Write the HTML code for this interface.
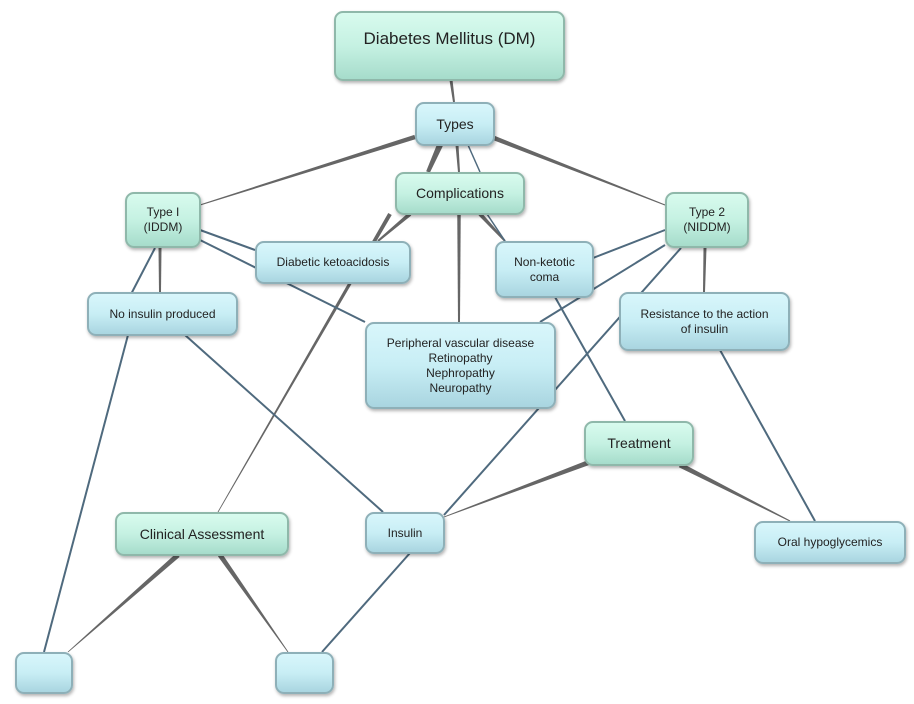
<!DOCTYPE html>
<html><head><meta charset="utf-8"><style>
body{margin:0;background:#fff;width:914px;height:704px;overflow:hidden;position:relative;font-family:"Liberation Sans",sans-serif}
svg{position:absolute;left:0;top:0}
.n{position:absolute;box-sizing:border-box;border:2px solid #8fb3b8;border-radius:9px;display:flex;align-items:center;justify-content:center;text-align:center;color:#222;font-size:12px;line-height:15px;box-shadow:1px 2px 3px rgba(0,0,0,.3)}
.b{background:linear-gradient(#d8f6fb,#c8eef5 50%,#a9d5e0);border-color:#8eb0b8}
.g{background:linear-gradient(#d8fbee,#c5f1e2 50%,#a6dccb);border-color:#8fb8aa}
</style></head><body>
<svg id="s" width="914" height="704"></svg>
<div class="n g" style="left:334px;top:11px;width:231px;height:70px;font-size:17px;align-items:flex-start;padding-top:18px">Diabetes Mellitus (DM)</div>
<div class="n b" style="left:415px;top:102px;width:80px;height:44px;font-size:14px">Types</div>
<div class="n g" style="left:395px;top:172px;width:130px;height:43px;font-size:14px">Complications</div>
<div class="n g" style="left:125px;top:192px;width:76px;height:56px">Type I<br>(IDDM)</div>
<div class="n g" style="left:665px;top:192px;width:84px;height:56px">Type 2<br>(NIDDM)</div>
<div class="n b" style="left:255px;top:241px;width:156px;height:43px">Diabetic ketoacidosis</div>
<div class="n b" style="left:495px;top:241px;width:99px;height:57px">Non-ketotic<br>coma</div>
<div class="n b" style="left:87px;top:292px;width:151px;height:44px">No insulin produced</div>
<div class="n b" style="left:619px;top:292px;width:171px;height:59px">Resistance to the action<br>of insulin</div>
<div class="n b" style="left:365px;top:322px;width:191px;height:87px">Peripheral vascular disease<br>Retinopathy<br>Nephropathy<br>Neuropathy</div>
<div class="n g" style="left:584px;top:421px;width:110px;height:45px;font-size:14px">Treatment</div>
<div class="n g" style="left:115px;top:512px;width:174px;height:44px;font-size:14px">Clinical Assessment</div>
<div class="n b" style="left:365px;top:512px;width:80px;height:42px">Insulin</div>
<div class="n b" style="left:754px;top:521px;width:152px;height:43px">Oral hypoglycemics</div>
<div class="n b" style="left:15px;top:652px;width:58px;height:42px"></div>
<div class="n b" style="left:275px;top:652px;width:59px;height:42px"></div>
<script>
var s=document.getElementById('s'),h='';
function L(a,b,c,d,w){h+='<line x1="'+a+'" y1="'+b+'" x2="'+c+'" y2="'+d+'" stroke="#4f6a7e" stroke-width="'+(w||2)+'"/>';}
function T(a,b,c,d,w1,w2){var dx=c-a,dy=d-b,l=Math.hypot(dx,dy),nx=-dy/l,ny=dx/l;
h+='<polygon fill="#666" points="'+[a+nx*w1/2,b+ny*w1/2,c+nx*w2/2,d+ny*w2/2,c-nx*w2/2,d-ny*w2/2,a-nx*w1/2,b-ny*w1/2].join(',')+'"/>';}
T(451,80,454,102,3,2);
T(415,137,200,205,4.5,1);
T(440,145,428,172,6,4);
T(457,145,459,172,3,2);
L(468,145,480,172,1.5);
T(494,138,665,205,4.5,1);
T(410,214,378,241,4,2);
T(390,214,218,512,4,0.8);
T(480,214,505,241,4,2);
T(459,214,459,322,3.5,2);
L(487,214,505,241,1.5);
L(200,230,255,250);L(200,240,365,322);
T(160,248,160,292,3,2);L(155,248,128,300);
L(128,335,44,652);
L(185,335,383,512);
L(665,230,593,258);L(665,245,540,322);
T(705,248,704,292,3,2);
L(681,248,444,515);
L(720,350,815,521);
L(555,297,625,421);
T(590,462,444,517,5,0.8);
T(680,465,790,521,5,1);
T(178,555,68,652,5,0.8);
T(220,555,288,652,5,0.8);
L(410,553,322,652);
s.innerHTML=h;
</script>
</body></html>
